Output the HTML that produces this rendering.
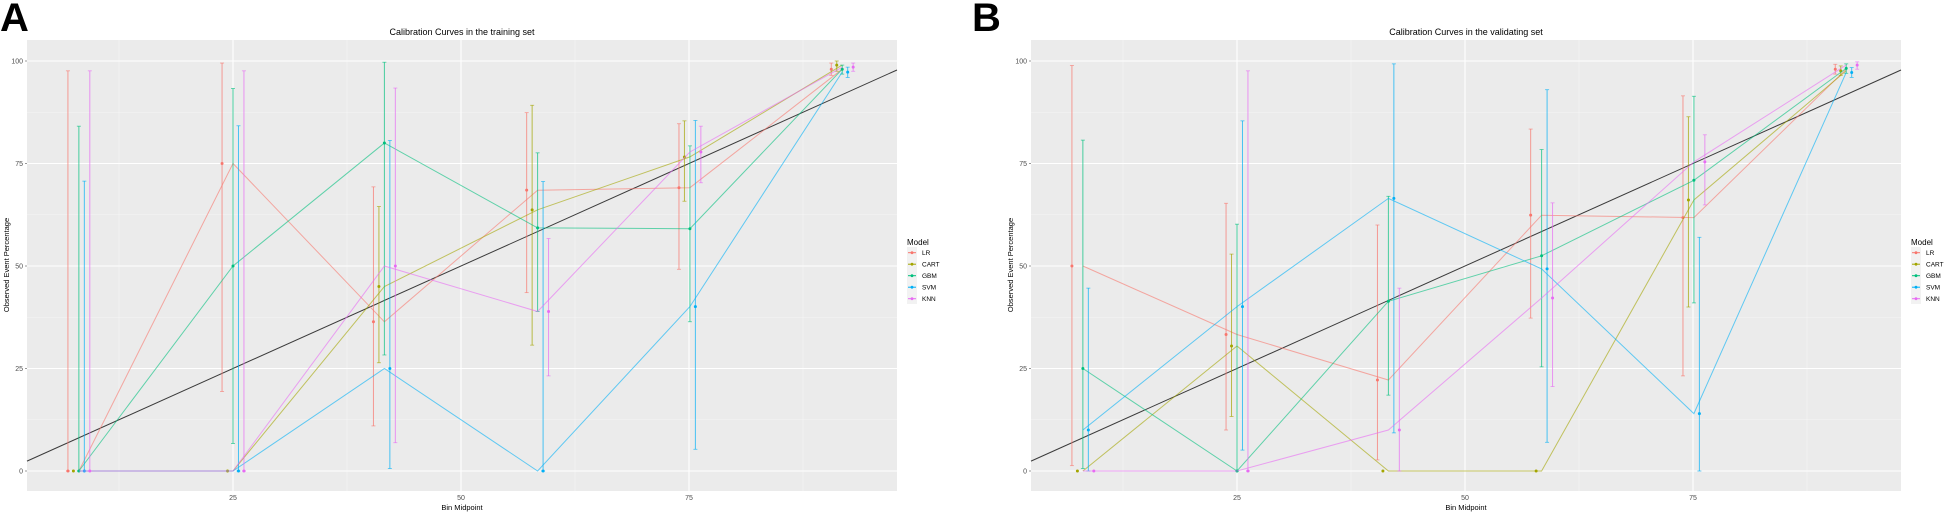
<!DOCTYPE html>
<html><head><meta charset="utf-8">
<style>
html,body{margin:0;padding:0;background:#fff;}
svg{display:block;}
text{font-family:"Liberation Sans",sans-serif;}
</style></head>
<body>
<svg id="s" width="1951" height="530" xmlns="http://www.w3.org/2000/svg"></svg>
<script>
const S=document.getElementById('s');
let out='';
const cols={LR:'#F8766D',CART:'#A3A500',GBM:'#00BF7D',SVM:'#00B0F6',KNN:'#E76BF3'};
const order=['LR','CART','GBM','SVM','KNN'];
const dodge={LR:-1.2,CART:-0.6,GBM:0,SVM:0.6,KNN:1.2};
const bins=[8.1,25,41.6,58.4,75.1,91.8];
function panel(x0,L,R,title,letter,lx,data){
  const px=d=>x0+d*9.12, py=v=>471-v*4.1;
  const T=40,B=491;
  out+=`<rect x="${L}" y="${T}" width="${R-L}" height="${B-T}" fill="#EBEBEB"/>`;
  [12.5,37.5,62.5,87.5].forEach(v=>{out+=`<line x1="${L}" x2="${R}" y1="${py(v)}" y2="${py(v)}" stroke="#F5F5F5" stroke-width="0.6"/>`;
    out+=`<line y1="${T}" y2="${B}" x1="${px(v)}" x2="${px(v)}" stroke="#F5F5F5" stroke-width="0.6"/>`;});
  [0,25,50,75,100].forEach(v=>{out+=`<line x1="${L}" x2="${R}" y1="${py(v)}" y2="${py(v)}" stroke="#fff" stroke-width="1.1"/>`;
    out+=`<text x="${L-4}" y="${py(v)+2.5}" font-size="7" fill="#4D4D4D" text-anchor="end">${v}</text>`;
    out+=`<line x1="${L-2}" x2="${L}" y1="${py(v)}" y2="${py(v)}" stroke="#333" stroke-width="0.5"/>`;});
  [25,50,75].forEach(v=>{out+=`<line y1="${T}" y2="${B}" x1="${px(v)}" x2="${px(v)}" stroke="#fff" stroke-width="1.1"/>`;
    out+=`<text x="${px(v)}" y="500" font-size="7" fill="#4D4D4D" text-anchor="middle">${v}</text>`;});
  // diagonal
  const d0=(L-x0)/9.12,d1=(R-x0)/9.12;
  out+=`<line x1="${L}" y1="${py(d0)}" x2="${R}" y2="${py(d1)}" stroke="#000" stroke-width="1" opacity="0.75"/>`;
  order.forEach(m=>{
    const c=cols[m],D=data[m];
    const pts=D.v.map((v,i)=>px(bins[i]).toFixed(1)+','+py(D.l?D.l[i]:v).toFixed(1)).join(' ');
    out+=`<polyline points="${pts}" fill="none" stroke="${c}" stroke-width="1" opacity="0.6"/>`;
    D.v.forEach((v,i)=>{
      const x=px(bins[i]+dodge[m]);
      const b=D.b[i];
      if(b){out+=`<line x1="${x}" x2="${x}" y1="${py(b[0])}" y2="${py(b[1])}" stroke="${c}" stroke-width="1" opacity="0.7"/>`;
        out+=`<line x1="${x-2}" x2="${x+2}" y1="${py(b[0])}" y2="${py(b[0])}" stroke="${c}" stroke-width="0.8" opacity="0.7"/>`;
        out+=`<line x1="${x-2}" x2="${x+2}" y1="${py(b[1])}" y2="${py(b[1])}" stroke="${c}" stroke-width="0.8" opacity="0.7"/>`;}
      out+=`<circle cx="${x}" cy="${py(v)}" r="1.5" fill="${c}"/>`;
    });
  });
  out+=`<text x="${(L+R)/2}" y="35" font-size="9" fill="#000" text-anchor="middle">${title}</text>`;
  out+=`<text x="${(L+R)/2}" y="510" font-size="7.5" fill="#000" text-anchor="middle">Bin Midpoint</text>`;
  out+=`<text transform="translate(${L-18},265) rotate(-90)" font-size="7.5" fill="#000" text-anchor="middle">Observed Event Percentage</text>`;
  out+=`<text x="${lx}" y="31" font-size="40" font-weight="bold" fill="#000">${letter}</text>`;
  const gx=R+10;
  out+=`<text x="${gx}" y="245" font-size="8" fill="#000">Model</text>`;
  out+=`<rect x="${gx}" y="247" width="10" height="57" fill="#F2F2F2"/>`;
  order.forEach((m,i)=>{const y=252.7+i*11.5;
    out+=`<line x1="${gx+1}" x2="${gx+9}" y1="${y}" y2="${y}" stroke="${cols[m]}" stroke-width="1"/>`;
    out+=`<circle cx="${gx+5}" cy="${y}" r="1.4" fill="${cols[m]}"/>`;
    out+=`<text x="${gx+15}" y="${y+2.5}" font-size="6.5" fill="#000">${m}</text>`;});
}
const A={
 LR:{v:[0,75,36.4,68.5,69.1,98],b:[[0,97.6],[19.4,99.5],[11,69.3],[43.5,87.4],[49.2,84.7],[96.5,99.5]]},
 CART:{v:[0,0,45,63.7,76.6,99],b:[null,null,[26.4,64.5],[30.7,89.2],[65.8,85.4],[97.5,100]]},
 GBM:{v:[0,50,80,59.3,59.1,98],b:[[0,84.1],[6.7,93.3],[28.3,99.7],[38.9,77.6],[36.4,79.3],[96.8,99]]},
 SVM:{v:[0,0,25,0,40.1,97.3],b:[[0,70.7],[0,84.2],[0.6,80.6],[0,70.6],[5.3,85.5],[96,98.5]]},
 KNN:{v:[0,0,50,38.9,77.8,98.5],b:[[0,97.6],[0,97.6],[6.9,93.4],[23.2,56.7],[70.3,84.1],[97.5,99.5]]}
};
const Bd={
 LR:{v:[50,33.3,22.2,62.4,61.8,98],b:[[1.3,98.9],[10,65.3],[2.7,60],[37.3,83.4],[23.2,91.5],[96.8,99.2]]},
 CART:{v:[0,30.5,0,0,66.1,97.6],b:[null,[13.3,52.9],null,null,[40,86.4],[96.5,98.8]]},
 GBM:{v:[25,0,41.4,52.5,70.9,98.2],b:[[0.6,80.7],[0,60.2],[18.5,67],[25.4,78.4],[41,91.4],[97,99.3]]},
 SVM:{v:[10,40.1,66.5,49.3,14,97.2],b:[[0,44.6],[5.1,85.4],[9.3,99.3],[7,93],[0,57],[96,98.4]]},
 KNN:{v:[0,0,10,42.2,75.4,99],b:[null,[0,97.6],[0,44.6],[20.6,65.4],[64.9,82],[98,99.8]]}
};
panel(5,27,897,'Calibration Curves in the training set','A',0,A);
panel(1009,1031,1901,'Calibration Curves in the validating set','B',972,Bd);
S.innerHTML=out;
</script>
</body></html>
